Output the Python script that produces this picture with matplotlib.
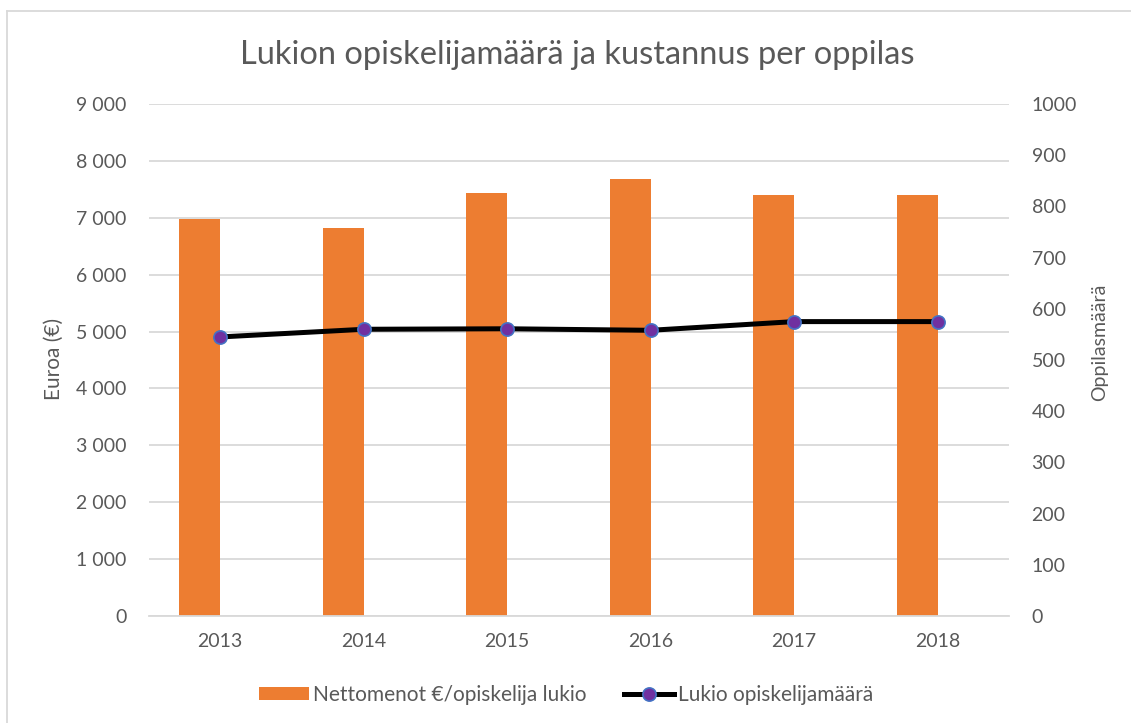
"""Lukion opiskelijamäärä ja kustannus per oppilas (bar + line, twin axes)."""

import numpy as np
import matplotlib
matplotlib.use("Agg")
import matplotlib.pyplot as plt
from matplotlib.lines import Line2D
from matplotlib.patches import Patch

# Data
years = ["2013", "2014", "2015", "2016", "2017", "2018"]
cost_per_student = [6970, 6815, 7435, 7685, 7400, 7400]  # € / opiskelija
student_count = [545, 560, 561, 558, 575, 575]

left_ticks = [0, 1000, 2000, 3000, 4000, 5000, 6000, 7000, 8000, 9000]
right_ticks = [0, 100, 200, 300, 400, 500, 600, 700, 800, 900, 1000]

TEXT = "#595959"
GRID = "#d9d9d9"
ORANGE = "#ED7D31"

plt.rcParams["font.family"] = ["Lato", "DejaVu Sans"]

W, H = 1131, 723
fig = plt.figure(figsize=(W / 100, H / 100), dpi=100)

# plot area in pixels: x 148.5..1009.3, y 104..616
ax = fig.add_axes([148.5 / W, 1 - 616 / H, (1009.3 - 148.5) / W, (616 - 104) / H])
ax2 = ax.twinx()

x = np.arange(len(years))
bar_w = 0.286
# Excel leaves room for a second (empty) series, so the bar sits left of centre
ax.bar(x - bar_w / 2, cost_per_student, width=bar_w, color=ORANGE, zorder=2)

ax2.plot(x, student_count, color="black", linewidth=3.6, marker="o",
         markersize=9.5, markerfacecolor="#7030A0", markeredgecolor="#4472C4",
         markeredgewidth=1.2, zorder=3)

ax.set_xlim(-0.5, len(years) - 0.5)
ax.set_ylim(0, 9000)
ax2.set_ylim(0, 1000)

ax.set_yticks(left_ticks)
ax.set_yticklabels([f"{v:,}".replace(",", " ") for v in left_ticks])
ax2.set_yticks(right_ticks)
ax2.set_yticklabels([str(v) for v in right_ticks])
ax.set_xticks(x)
ax.set_xticklabels(years)

ax.yaxis.grid(True, color=GRID, linewidth=1.3, zorder=0)
ax.set_axisbelow(True)
for a in (ax, ax2):
    for s in a.spines.values():
        s.set_visible(False)
ax.spines["bottom"].set_visible(True)
ax.spines["bottom"].set_color(GRID)
ax.spines["bottom"].set_linewidth(1.3)

ax.tick_params(axis="y", length=0, pad=16, labelsize=14, labelcolor=TEXT)
ax2.tick_params(axis="y", length=0, pad=16, labelsize=14, labelcolor=TEXT)
ax.tick_params(axis="x", length=0, pad=12, labelsize=14, labelcolor=TEXT)

fig.text(54 / W, 1 - 359 / H, "Euroa (€)", rotation=90, ha="center",
         va="center", fontsize=15, color=TEXT)
fig.text(1100 / W, 1 - 342 / H, "Oppilasmäärä", rotation=90, ha="center",
         va="center", fontsize=14, color=TEXT)

fig.text(577 / W, 1 - 55 / H, "Lukion opiskelijamäärä ja kustannus per oppilas",
         ha="center", va="center", fontsize=23.5, color=TEXT)

handles = [
    Patch(facecolor=ORANGE, edgecolor="none"),
    Line2D([0], [0], color="black", linewidth=3.6, marker="o", markersize=9.5,
           markerfacecolor="#7030A0", markeredgecolor="#4472C4", markeredgewidth=1.2),
]
leg = fig.legend(handles, ["Nettomenot €/opiskelija lukio", "Lukio opiskelijamäärä"],
                 loc="center", bbox_to_anchor=(566 / W, 1 - 695 / H), ncol=2,
                 frameon=False, fontsize=15, handlelength=2.4, handleheight=0.6,
                 handletextpad=0.2, columnspacing=1.8)
for t in leg.get_texts():
    t.set_color(TEXT)

# chart border (only left and top edges fall inside the picture)
fig.add_artist(Line2D([7 / W, 7 / W], [0, 1 - 11 / H], color=GRID, linewidth=1.3))
fig.add_artist(Line2D([7 / W, 1], [1 - 11 / H, 1 - 11 / H], color=GRID, linewidth=1.3))

fig.savefig("out.png", dpi=100)
